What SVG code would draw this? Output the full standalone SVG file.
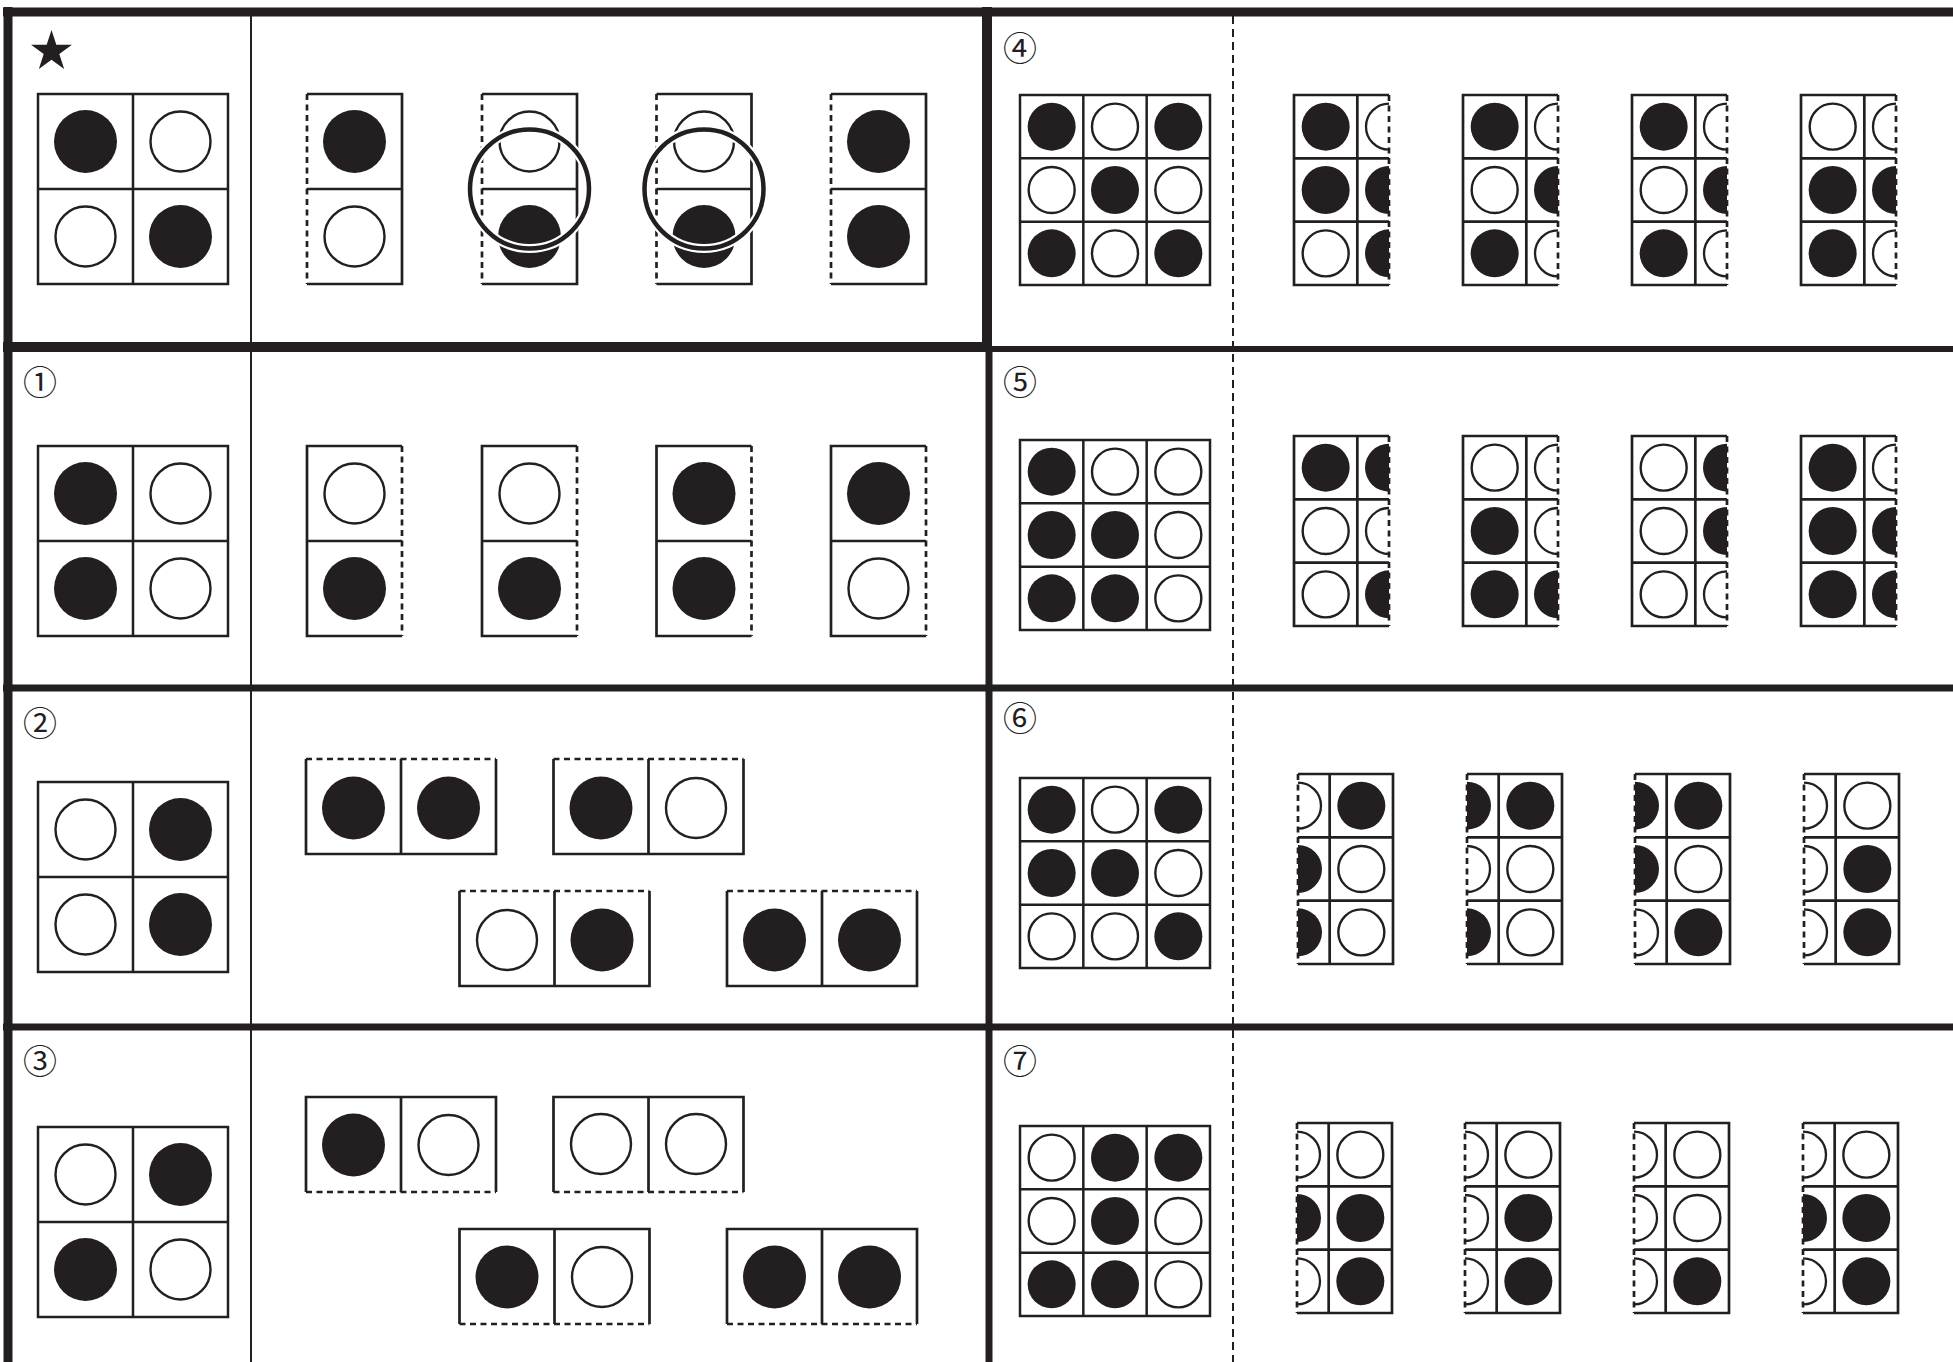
<svg xmlns="http://www.w3.org/2000/svg" width="1953" height="1362" viewBox="0 0 1953 1362">
<style>
.k{fill:#231f20}
.w{fill:#fff;stroke:#231f20;stroke-width:2.4}
.hw{fill:none;stroke:#231f20;stroke-width:2.3}
.s{fill:none;stroke:#231f20;stroke-width:2.7}
.sd{fill:none;stroke:#231f20;stroke-width:2.7;stroke-dasharray:6 4.5}
.g{fill:none;stroke:#231f20;stroke-width:2.5}
.fr{fill:none;stroke:#231f20}
.num{font-family:"Noto Sans CJK JP","Noto Sans",sans-serif;font-size:34px;fill:#231f20;text-anchor:middle}
.ring-w{fill:none;stroke:#fff;stroke-width:9}
.ring{fill:none;stroke:#231f20;stroke-width:4.5}
</style>
<rect x="0" y="0" width="1953" height="1362" fill="#fff"/>

<g id="frame">
  <line class="fr" x1="3" y1="12" x2="1953" y2="12" stroke-width="9"/>
  <line class="fr" x1="3" y1="347" x2="990" y2="347" stroke-width="10"/>
  <line class="fr" x1="990" y1="349" x2="1953" y2="349" stroke-width="6"/>
  <line class="fr" x1="3" y1="688" x2="1953" y2="688" stroke-width="7"/>
  <line class="fr" x1="3" y1="1027" x2="1953" y2="1027" stroke-width="7"/>
  <line class="fr" x1="8" y1="7" x2="8" y2="1362" stroke-width="9"/>
  <line class="fr" x1="987" y1="7" x2="987" y2="352" stroke-width="10"/>
  <line class="fr" x1="989" y1="347" x2="989" y2="1362" stroke-width="7"/>
  <line class="fr" x1="251" y1="16" x2="251" y2="1362" stroke-width="2"/>
  <line class="fr" x1="1233" y1="16" x2="1233" y2="1362" stroke-width="2" stroke-dasharray="8 5"/>
</g>

<!-- STAR example -->
<g id="q-star">
  <polygon class="k" points="51.5,30 56.33,44.86 71.95,44.86 59.31,54.04 64.14,68.89 51.5,59.71 38.86,68.89 43.69,54.04 31.05,44.86 46.67,44.86"/>
  <g id="star-grid">
    <rect class="g" x="38" y="94" width="190" height="190"/>
    <path class="g" d="M133,94 V284 M38,189 H228"/>
    <circle class="k" cx="85.5" cy="141.5" r="31.5"/>
    <circle class="w" cx="180.5" cy="141.5" r="30"/>
    <circle class="w" cx="85.5" cy="236.5" r="30"/>
    <circle class="k" cx="180.5" cy="236.5" r="31.5"/>
  </g>
  <g id="star-opt1">
    <path class="s" d="M307,94 H402 V284 H307 M307,189 H402"/>
    <path class="sd" d="M307,94 V284"/>
    <circle class="k" cx="354.5" cy="141.5" r="31.5"/>
    <circle class="w" cx="354.5" cy="236.5" r="30"/>
  </g>
  <g id="star-opt2">
    <path class="s" d="M482,94 H577 V284 H482 M482,189 H577"/>
    <path class="sd" d="M482,94 V284"/>
    <circle class="w" cx="529.5" cy="141.5" r="30"/>
    <circle class="k" cx="529.5" cy="236.5" r="31.5"/>
  </g>
  <g id="star-opt3">
    <path class="s" d="M656.5,94 H751.5 V284 H656.5 M656.5,189 H751.5"/>
    <path class="sd" d="M656.5,94 V284"/>
    <circle class="w" cx="704" cy="141.5" r="30"/>
    <circle class="k" cx="704" cy="236.5" r="31.5"/>
  </g>
  <g id="star-opt4">
    <path class="s" d="M831,94 H926 V284 H831 M831,189 H926"/>
    <path class="sd" d="M831,94 V284"/>
    <circle class="k" cx="878.5" cy="141.5" r="31.5"/>
    <circle class="k" cx="878.5" cy="236.5" r="31.5"/>
  </g>
  <g id="star-answer-rings">
    <circle class="ring-w" cx="529.5" cy="189" r="59.5"/>
    <circle class="ring" cx="529.5" cy="189" r="59.5"/>
    <circle class="ring-w" cx="704" cy="189" r="59.5"/>
    <circle class="ring" cx="704" cy="189" r="59.5"/>
  </g>
</g>

<!-- 1 -->
<g id="q1">
  <text class="num" x="40" y="395">①</text>
  <g id="q1-grid">
    <rect class="g" x="38" y="446" width="190" height="190"/>
    <path class="g" d="M133,446 V636 M38,541 H228"/>
    <circle class="k" cx="85.5" cy="493.5" r="31.5"/>
    <circle class="w" cx="180.5" cy="493.5" r="30"/>
    <circle class="k" cx="85.5" cy="588.5" r="31.5"/>
    <circle class="w" cx="180.5" cy="588.5" r="30"/>
  </g>
  <g id="q1-opt1">
    <path class="s" d="M402,446 H307 V636 H402 M307,541 H402"/>
    <path class="sd" d="M402,446 V636"/>
    <circle class="w" cx="354.5" cy="493.5" r="30"/>
    <circle class="k" cx="354.5" cy="588.5" r="31.5"/>
  </g>
  <g id="q1-opt2">
    <path class="s" d="M577,446 H482 V636 H577 M482,541 H577"/>
    <path class="sd" d="M577,446 V636"/>
    <circle class="w" cx="529.5" cy="493.5" r="30"/>
    <circle class="k" cx="529.5" cy="588.5" r="31.5"/>
  </g>
  <g id="q1-opt3">
    <path class="s" d="M751.5,446 H656.5 V636 H751.5 M656.5,541 H751.5"/>
    <path class="sd" d="M751.5,446 V636"/>
    <circle class="k" cx="704" cy="493.5" r="31.5"/>
    <circle class="k" cx="704" cy="588.5" r="31.5"/>
  </g>
  <g id="q1-opt4">
    <path class="s" d="M926,446 H831 V636 H926 M831,541 H926"/>
    <path class="sd" d="M926,446 V636"/>
    <circle class="k" cx="878.5" cy="493.5" r="31.5"/>
    <circle class="w" cx="878.5" cy="588.5" r="30"/>
  </g>
</g>

<!-- 2 -->
<g id="q2">
  <text class="num" x="40" y="736">②</text>
  <g id="q2-grid">
    <rect class="g" x="38" y="782" width="190" height="190"/>
    <path class="g" d="M133,782 V972 M38,877 H228"/>
    <circle class="w" cx="85.5" cy="829.5" r="30"/>
    <circle class="k" cx="180.5" cy="829.5" r="31.5"/>
    <circle class="w" cx="85.5" cy="924.5" r="30"/>
    <circle class="k" cx="180.5" cy="924.5" r="31.5"/>
  </g>
  <g id="q2-opt1">
    <path class="s" d="M306,759 V854 H496 V759 M401,759 V854"/>
    <path class="sd" d="M306,759 H496"/>
    <circle class="k" cx="353.5" cy="808" r="31.5"/>
    <circle class="k" cx="448.5" cy="808" r="31.5"/>
  </g>
  <g id="q2-opt2">
    <path class="s" d="M553.5,759 V854 H743.5 V759 M648.5,759 V854"/>
    <path class="sd" d="M553.5,759 H743.5"/>
    <circle class="k" cx="601" cy="808" r="31.5"/>
    <circle class="w" cx="696" cy="808" r="30"/>
  </g>
  <g id="q2-opt3">
    <path class="s" d="M459.5,891 V986 H649.5 V891 M554.5,891 V986"/>
    <path class="sd" d="M459.5,891 H649.5"/>
    <circle class="w" cx="507" cy="940" r="30"/>
    <circle class="k" cx="602" cy="940" r="31.5"/>
  </g>
  <g id="q2-opt4">
    <path class="s" d="M727,891 V986 H917 V891 M822,891 V986"/>
    <path class="sd" d="M727,891 H917"/>
    <circle class="k" cx="774.5" cy="940" r="31.5"/>
    <circle class="k" cx="869.5" cy="940" r="31.5"/>
  </g>
</g>

<!-- 3 -->
<g id="q3">
  <text class="num" x="40" y="1074">③</text>
  <g id="q3-grid">
    <rect class="g" x="38" y="1127" width="190" height="190"/>
    <path class="g" d="M133,1127 V1317 M38,1222 H228"/>
    <circle class="w" cx="85.5" cy="1174.5" r="30"/>
    <circle class="k" cx="180.5" cy="1174.5" r="31.5"/>
    <circle class="k" cx="85.5" cy="1269.5" r="31.5"/>
    <circle class="w" cx="180.5" cy="1269.5" r="30"/>
  </g>
  <g id="q3-opt1">
    <path class="s" d="M306,1192 V1097 H496 V1192 M401,1097 V1192"/>
    <path class="sd" d="M306,1192 H496"/>
    <circle class="k" cx="353.5" cy="1145" r="31.5"/>
    <circle class="w" cx="448.5" cy="1145" r="30"/>
  </g>
  <g id="q3-opt2">
    <path class="s" d="M553.5,1192 V1097 H743.5 V1192 M648.5,1097 V1192"/>
    <path class="sd" d="M553.5,1192 H743.5"/>
    <circle class="w" cx="601" cy="1144" r="30"/>
    <circle class="w" cx="696" cy="1144" r="30"/>
  </g>
  <g id="q3-opt3">
    <path class="s" d="M459.5,1324 V1229 H649.5 V1324 M554.5,1229 V1324"/>
    <path class="sd" d="M459.5,1324 H649.5"/>
    <circle class="k" cx="507" cy="1277" r="31.5"/>
    <circle class="w" cx="602" cy="1277" r="30"/>
  </g>
  <g id="q3-opt4">
    <path class="s" d="M727,1324 V1229 H917 V1324 M822,1229 V1324"/>
    <path class="sd" d="M727,1324 H917"/>
    <circle class="k" cx="774.5" cy="1277" r="31.5"/>
    <circle class="k" cx="869.5" cy="1277" r="31.5"/>
  </g>
</g>

<!-- 4 -->
<g id="q4">
  <text class="num" x="1020" y="61">④</text>
  <g id="q4-grid">
    <rect class="g" x="1020" y="95" width="190" height="190"/>
    <path class="g" d="M1083.33,95 V285 M1146.67,95 V285 M1020,158.33 H1210 M1020,221.67 H1210"/>
    <circle class="k" cx="1051.67" cy="126.67" r="24"/>
    <circle class="w" cx="1115" cy="126.67" r="23"/>
    <circle class="k" cx="1178.33" cy="126.67" r="24"/>
    <circle class="w" cx="1051.67" cy="190" r="23"/>
    <circle class="k" cx="1115" cy="190" r="24"/>
    <circle class="w" cx="1178.33" cy="190" r="23"/>
    <circle class="k" cx="1051.67" cy="253.33" r="24"/>
    <circle class="w" cx="1115" cy="253.33" r="23"/>
    <circle class="k" cx="1178.33" cy="253.33" r="24"/>
  </g>
  <g id="q4-opt1">
    <circle class="k" cx="1325.67" cy="126.67" r="24"/>
    <circle class="k" cx="1325.67" cy="190" r="24"/>
    <circle class="w" cx="1325.67" cy="253.33" r="23"/>
    <path class="hw" d="M1389,103.67 A23,23 0 0 0 1389,149.67"/>
    <path class="k" d="M1389,166 A24,24 0 0 0 1389,214 Z"/>
    <path class="k" d="M1389,229.33 A24,24 0 0 0 1389,277.33 Z"/>
    <path class="s" d="M1389,95 H1294 V285 H1389 M1357.33,95 V285 M1294,158.33 H1389 M1294,221.67 H1389"/>
    <path class="sd" d="M1389,95 V285"/>
  </g>
  <g id="q4-opt2">
    <circle class="k" cx="1494.67" cy="126.67" r="24"/>
    <circle class="w" cx="1494.67" cy="190" r="23"/>
    <circle class="k" cx="1494.67" cy="253.33" r="24"/>
    <path class="hw" d="M1558,103.67 A23,23 0 0 0 1558,149.67"/>
    <path class="k" d="M1558,166 A24,24 0 0 0 1558,214 Z"/>
    <path class="hw" d="M1558,230.33 A23,23 0 0 0 1558,276.33"/>
    <path class="s" d="M1558,95 H1463 V285 H1558 M1526.33,95 V285 M1463,158.33 H1558 M1463,221.67 H1558"/>
    <path class="sd" d="M1558,95 V285"/>
  </g>
  <g id="q4-opt3">
    <circle class="k" cx="1663.67" cy="126.67" r="24"/>
    <circle class="w" cx="1663.67" cy="190" r="23"/>
    <circle class="k" cx="1663.67" cy="253.33" r="24"/>
    <path class="hw" d="M1727,103.67 A23,23 0 0 0 1727,149.67"/>
    <path class="k" d="M1727,166 A24,24 0 0 0 1727,214 Z"/>
    <path class="hw" d="M1727,230.33 A23,23 0 0 0 1727,276.33"/>
    <path class="s" d="M1727,95 H1632 V285 H1727 M1695.33,95 V285 M1632,158.33 H1727 M1632,221.67 H1727"/>
    <path class="sd" d="M1727,95 V285"/>
  </g>
  <g id="q4-opt4">
    <circle class="w" cx="1832.67" cy="126.67" r="23"/>
    <circle class="k" cx="1832.67" cy="190" r="24"/>
    <circle class="k" cx="1832.67" cy="253.33" r="24"/>
    <path class="hw" d="M1896,103.67 A23,23 0 0 0 1896,149.67"/>
    <path class="k" d="M1896,166 A24,24 0 0 0 1896,214 Z"/>
    <path class="hw" d="M1896,230.33 A23,23 0 0 0 1896,276.33"/>
    <path class="s" d="M1896,95 H1801 V285 H1896 M1864.33,95 V285 M1801,158.33 H1896 M1801,221.67 H1896"/>
    <path class="sd" d="M1896,95 V285"/>
  </g>
</g>

<!-- 5 -->
<g id="q5">
  <text class="num" x="1020" y="395">⑤</text>
  <g id="q5-grid">
    <rect class="g" x="1020" y="440" width="190" height="190"/>
    <path class="g" d="M1083.33,440 V630 M1146.67,440 V630 M1020,503.33 H1210 M1020,566.67 H1210"/>
    <circle class="k" cx="1051.67" cy="471.67" r="24"/>
    <circle class="w" cx="1115" cy="471.67" r="23"/>
    <circle class="w" cx="1178.33" cy="471.67" r="23"/>
    <circle class="k" cx="1051.67" cy="535" r="24"/>
    <circle class="k" cx="1115" cy="535" r="24"/>
    <circle class="w" cx="1178.33" cy="535" r="23"/>
    <circle class="k" cx="1051.67" cy="598.33" r="24"/>
    <circle class="k" cx="1115" cy="598.33" r="24"/>
    <circle class="w" cx="1178.33" cy="598.33" r="23"/>
  </g>
  <g id="q5-opt1">
    <circle class="k" cx="1325.67" cy="467.67" r="24"/>
    <circle class="w" cx="1325.67" cy="531" r="23"/>
    <circle class="w" cx="1325.67" cy="594.33" r="23"/>
    <path class="k" d="M1389,443.67 A24,24 0 0 0 1389,491.67 Z"/>
    <path class="hw" d="M1389,508 A23,23 0 0 0 1389,554"/>
    <path class="k" d="M1389,570.33 A24,24 0 0 0 1389,618.33 Z"/>
    <path class="s" d="M1389,436 H1294 V626 H1389 M1357.33,436 V626 M1294,499.33 H1389 M1294,562.67 H1389"/>
    <path class="sd" d="M1389,436 V626"/>
  </g>
  <g id="q5-opt2">
    <circle class="w" cx="1494.67" cy="467.67" r="23"/>
    <circle class="k" cx="1494.67" cy="531" r="24"/>
    <circle class="k" cx="1494.67" cy="594.33" r="24"/>
    <path class="hw" d="M1558,444.67 A23,23 0 0 0 1558,490.67"/>
    <path class="hw" d="M1558,508 A23,23 0 0 0 1558,554"/>
    <path class="k" d="M1558,570.33 A24,24 0 0 0 1558,618.33 Z"/>
    <path class="s" d="M1558,436 H1463 V626 H1558 M1526.33,436 V626 M1463,499.33 H1558 M1463,562.67 H1558"/>
    <path class="sd" d="M1558,436 V626"/>
  </g>
  <g id="q5-opt3">
    <circle class="w" cx="1663.67" cy="467.67" r="23"/>
    <circle class="w" cx="1663.67" cy="531" r="23"/>
    <circle class="w" cx="1663.67" cy="594.33" r="23"/>
    <path class="k" d="M1727,443.67 A24,24 0 0 0 1727,491.67 Z"/>
    <path class="k" d="M1727,507 A24,24 0 0 0 1727,555 Z"/>
    <path class="hw" d="M1727,571.33 A23,23 0 0 0 1727,617.33"/>
    <path class="s" d="M1727,436 H1632 V626 H1727 M1695.33,436 V626 M1632,499.33 H1727 M1632,562.67 H1727"/>
    <path class="sd" d="M1727,436 V626"/>
  </g>
  <g id="q5-opt4">
    <circle class="k" cx="1832.67" cy="467.67" r="24"/>
    <circle class="k" cx="1832.67" cy="531" r="24"/>
    <circle class="k" cx="1832.67" cy="594.33" r="24"/>
    <path class="hw" d="M1896,444.67 A23,23 0 0 0 1896,490.67"/>
    <path class="k" d="M1896,507 A24,24 0 0 0 1896,555 Z"/>
    <path class="k" d="M1896,570.33 A24,24 0 0 0 1896,618.33 Z"/>
    <path class="s" d="M1896,436 H1801 V626 H1896 M1864.33,436 V626 M1801,499.33 H1896 M1801,562.67 H1896"/>
    <path class="sd" d="M1896,436 V626"/>
  </g>
</g>

<!-- 6 -->
<g id="q6">
  <text class="num" x="1020" y="731">⑥</text>
  <g id="q6-grid">
    <rect class="g" x="1020" y="778" width="190" height="190"/>
    <path class="g" d="M1083.33,778 V968 M1146.67,778 V968 M1020,841.33 H1210 M1020,904.67 H1210"/>
    <circle class="k" cx="1051.67" cy="809.67" r="24"/>
    <circle class="w" cx="1115" cy="809.67" r="23"/>
    <circle class="k" cx="1178.33" cy="809.67" r="24"/>
    <circle class="k" cx="1051.67" cy="873" r="24"/>
    <circle class="k" cx="1115" cy="873" r="24"/>
    <circle class="w" cx="1178.33" cy="873" r="23"/>
    <circle class="w" cx="1051.67" cy="936.33" r="23"/>
    <circle class="w" cx="1115" cy="936.33" r="23"/>
    <circle class="k" cx="1178.33" cy="936.33" r="24"/>
  </g>
  <g id="q6-opt1">
    <path class="hw" d="M1298,782.67 A23,23 0 0 1 1298,828.67"/>
    <path class="k" d="M1298,845 A24,24 0 0 1 1298,893 Z"/>
    <path class="k" d="M1298,908.33 A24,24 0 0 1 1298,956.33 Z"/>
    <circle class="k" cx="1361.33" cy="805.67" r="24"/>
    <circle class="w" cx="1361.33" cy="869" r="23"/>
    <circle class="w" cx="1361.33" cy="932.33" r="23"/>
    <path class="s" d="M1298,774 H1393 V964 H1298 M1329.67,774 V964 M1298,837.33 H1393 M1298,900.67 H1393"/>
    <path class="sd" d="M1298,774 V964"/>
  </g>
  <g id="q6-opt2">
    <path class="k" d="M1467,781.67 A24,24 0 0 1 1467,829.67 Z"/>
    <path class="hw" d="M1467,846 A23,23 0 0 1 1467,892"/>
    <path class="k" d="M1467,908.33 A24,24 0 0 1 1467,956.33 Z"/>
    <circle class="k" cx="1530.33" cy="805.67" r="24"/>
    <circle class="w" cx="1530.33" cy="869" r="23"/>
    <circle class="w" cx="1530.33" cy="932.33" r="23"/>
    <path class="s" d="M1467,774 H1562 V964 H1467 M1498.67,774 V964 M1467,837.33 H1562 M1467,900.67 H1562"/>
    <path class="sd" d="M1467,774 V964"/>
  </g>
  <g id="q6-opt3">
    <path class="k" d="M1635,781.67 A24,24 0 0 1 1635,829.67 Z"/>
    <path class="k" d="M1635,845 A24,24 0 0 1 1635,893 Z"/>
    <path class="hw" d="M1635,909.33 A23,23 0 0 1 1635,955.33"/>
    <circle class="k" cx="1698.33" cy="805.67" r="24"/>
    <circle class="w" cx="1698.33" cy="869" r="23"/>
    <circle class="k" cx="1698.33" cy="932.33" r="24"/>
    <path class="s" d="M1635,774 H1730 V964 H1635 M1666.67,774 V964 M1635,837.33 H1730 M1635,900.67 H1730"/>
    <path class="sd" d="M1635,774 V964"/>
  </g>
  <g id="q6-opt4">
    <path class="hw" d="M1804,782.67 A23,23 0 0 1 1804,828.67"/>
    <path class="hw" d="M1804,846 A23,23 0 0 1 1804,892"/>
    <path class="hw" d="M1804,909.33 A23,23 0 0 1 1804,955.33"/>
    <circle class="w" cx="1867.33" cy="805.67" r="23"/>
    <circle class="k" cx="1867.33" cy="869" r="24"/>
    <circle class="k" cx="1867.33" cy="932.33" r="24"/>
    <path class="s" d="M1804,774 H1899 V964 H1804 M1835.67,774 V964 M1804,837.33 H1899 M1804,900.67 H1899"/>
    <path class="sd" d="M1804,774 V964"/>
  </g>
</g>

<!-- 7 -->
<g id="q7">
  <text class="num" x="1020" y="1074">⑦</text>
  <g id="q7-grid">
    <rect class="g" x="1020" y="1126" width="190" height="190"/>
    <path class="g" d="M1083.33,1126 V1316 M1146.67,1126 V1316 M1020,1189.33 H1210 M1020,1252.67 H1210"/>
    <circle class="w" cx="1051.67" cy="1157.67" r="23"/>
    <circle class="k" cx="1115" cy="1157.67" r="24"/>
    <circle class="k" cx="1178.33" cy="1157.67" r="24"/>
    <circle class="w" cx="1051.67" cy="1221" r="23"/>
    <circle class="k" cx="1115" cy="1221" r="24"/>
    <circle class="w" cx="1178.33" cy="1221" r="23"/>
    <circle class="k" cx="1051.67" cy="1284.33" r="24"/>
    <circle class="k" cx="1115" cy="1284.33" r="24"/>
    <circle class="w" cx="1178.33" cy="1284.33" r="23"/>
  </g>
  <g id="q7-opt1">
    <path class="hw" d="M1297,1131.67 A23,23 0 0 1 1297,1177.67"/>
    <path class="k" d="M1297,1194 A24,24 0 0 1 1297,1242 Z"/>
    <path class="hw" d="M1297,1258.33 A23,23 0 0 1 1297,1304.33"/>
    <circle class="w" cx="1360.33" cy="1154.67" r="23"/>
    <circle class="k" cx="1360.33" cy="1218" r="24"/>
    <circle class="k" cx="1360.33" cy="1281.33" r="24"/>
    <path class="s" d="M1297,1123 H1392 V1313 H1297 M1328.67,1123 V1313 M1297,1186.33 H1392 M1297,1249.67 H1392"/>
    <path class="sd" d="M1297,1123 V1313"/>
  </g>
  <g id="q7-opt2">
    <path class="hw" d="M1465,1131.67 A23,23 0 0 1 1465,1177.67"/>
    <path class="hw" d="M1465,1195 A23,23 0 0 1 1465,1241"/>
    <path class="hw" d="M1465,1258.33 A23,23 0 0 1 1465,1304.33"/>
    <circle class="w" cx="1528.33" cy="1154.67" r="23"/>
    <circle class="k" cx="1528.33" cy="1218" r="24"/>
    <circle class="k" cx="1528.33" cy="1281.33" r="24"/>
    <path class="s" d="M1465,1123 H1560 V1313 H1465 M1496.67,1123 V1313 M1465,1186.33 H1560 M1465,1249.67 H1560"/>
    <path class="sd" d="M1465,1123 V1313"/>
  </g>
  <g id="q7-opt3">
    <path class="hw" d="M1634,1131.67 A23,23 0 0 1 1634,1177.67"/>
    <path class="hw" d="M1634,1195 A23,23 0 0 1 1634,1241"/>
    <path class="hw" d="M1634,1258.33 A23,23 0 0 1 1634,1304.33"/>
    <circle class="w" cx="1697.33" cy="1154.67" r="23"/>
    <circle class="w" cx="1697.33" cy="1218" r="23"/>
    <circle class="k" cx="1697.33" cy="1281.33" r="24"/>
    <path class="s" d="M1634,1123 H1729 V1313 H1634 M1665.67,1123 V1313 M1634,1186.33 H1729 M1634,1249.67 H1729"/>
    <path class="sd" d="M1634,1123 V1313"/>
  </g>
  <g id="q7-opt4">
    <path class="hw" d="M1803,1131.67 A23,23 0 0 1 1803,1177.67"/>
    <path class="k" d="M1803,1194 A24,24 0 0 1 1803,1242 Z"/>
    <path class="hw" d="M1803,1258.33 A23,23 0 0 1 1803,1304.33"/>
    <circle class="w" cx="1866.33" cy="1154.67" r="23"/>
    <circle class="k" cx="1866.33" cy="1218" r="24"/>
    <circle class="k" cx="1866.33" cy="1281.33" r="24"/>
    <path class="s" d="M1803,1123 H1898 V1313 H1803 M1834.67,1123 V1313 M1803,1186.33 H1898 M1803,1249.67 H1898"/>
    <path class="sd" d="M1803,1123 V1313"/>
  </g>
</g>
</svg>
